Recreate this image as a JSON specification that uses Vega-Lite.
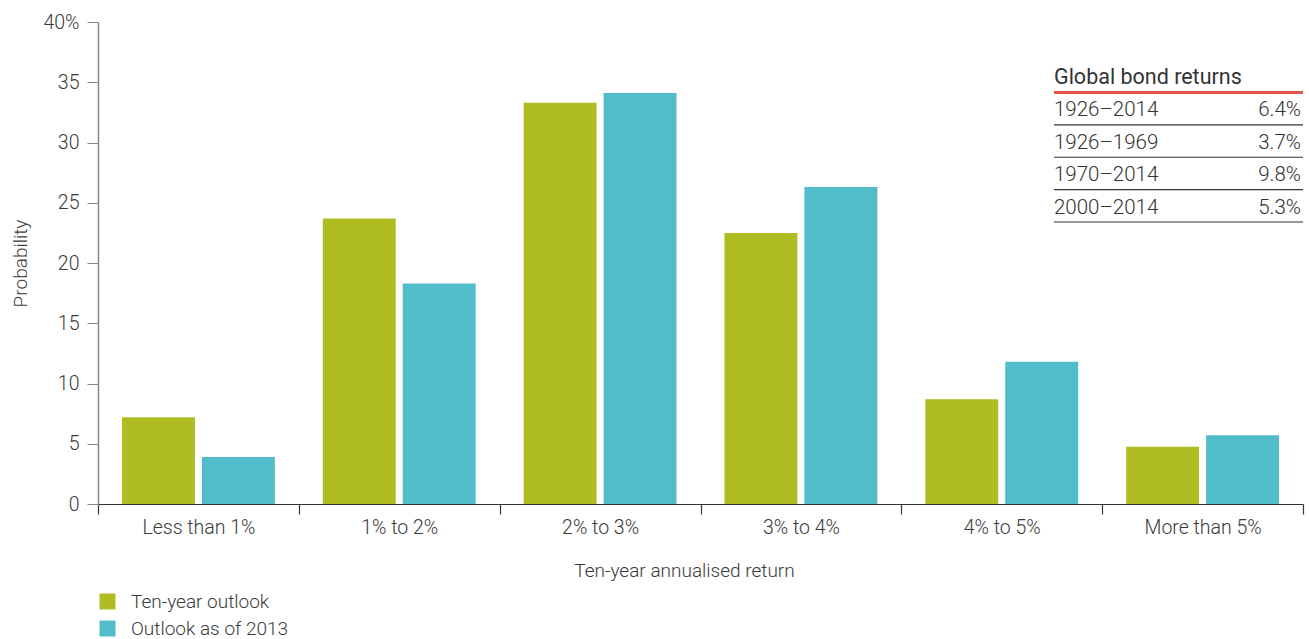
{
  "$schema": "https://vega.github.io/schema/vega-lite/v6.json",
  "width": 1205,
  "height": 482,
  "autosize": {"type": "none"},
  "padding": {"left": 98, "top": 22, "right": 6, "bottom": 135},
  "config": {
    "view": {"stroke": null},
    "font": "Roboto",
    "axis": {"labelFont": "Roboto", "titleFont": "Roboto", "labelFontSize": 19.5, "titleFontSize": 19, "labelFontWeight": 300, "titleFontWeight": 300, "labelColor": "#3a3a3a", "titleColor": "#3a3a3a"},
    "legend": {"labelFont": "Roboto", "labelFontSize": 19, "labelFontWeight": 300, "labelColor": "#3a3a3a", "labelLimit": 400}
  },
  "layer": [
    {
      "data": {
        "values": [
          {"range": "Less than 1%", "series": "Ten-year outlook", "prob": 7.2},
          {"range": "Less than 1%", "series": "Outlook as of 2013", "prob": 3.9},
          {"range": "1% to 2%", "series": "Ten-year outlook", "prob": 23.7},
          {"range": "1% to 2%", "series": "Outlook as of 2013", "prob": 18.3},
          {"range": "2% to 3%", "series": "Ten-year outlook", "prob": 33.3},
          {"range": "2% to 3%", "series": "Outlook as of 2013", "prob": 34.1},
          {"range": "3% to 4%", "series": "Ten-year outlook", "prob": 22.5},
          {"range": "3% to 4%", "series": "Outlook as of 2013", "prob": 26.3},
          {"range": "4% to 5%", "series": "Ten-year outlook", "prob": 8.7},
          {"range": "4% to 5%", "series": "Outlook as of 2013", "prob": 11.8},
          {"range": "More than 5%", "series": "Ten-year outlook", "prob": 4.75},
          {"range": "More than 5%", "series": "Outlook as of 2013", "prob": 5.7}
        ]
      },
      "mark": {"type": "bar"},
      "encoding": {
        "x": {
          "field": "range", "type": "nominal", "sort": null,
          "scale": {"paddingInner": 0, "paddingOuter": 0},
          "axis": {
            "title": "Ten-year annualised return",
            "labelAngle": 0, "tickBand": "extent",
            "domainColor": "#333", "tickColor": "#333", "domainWidth": 1.2, "tickWidth": 1.2,
            "tickSize": 10, "labelPadding": 4, "titlePadding": 25, "titleX": 586
          }
        },
        "xOffset": {
          "field": "series", "type": "nominal",
          "sort": ["Ten-year outlook", "Outlook as of 2013"],
          "scale": {"paddingInner": 0.0875, "paddingOuter": 0.3}
        },
        "y": {
          "field": "prob", "type": "quantitative",
          "scale": {"domain": [0, 40], "nice": false},
          "axis": {
            "title": "Probability",
            "values": [0, 5, 10, 15, 20, 25, 30, 35, 40],
            "labelExpr": "datum.value == 40 ? '40%' : datum.label",
            "grid": false, "domainColor": "#888", "tickColor": "#888", "domainWidth": 1.5,
            "tickSize": 11, "labelPadding": 8, "titlePadding": 12
          }
        },
        "color": {
          "field": "series", "type": "nominal",
          "scale": {"domain": ["Ten-year outlook", "Outlook as of 2013"], "range": ["#AFBC22", "#52BDCA"]},
          "legend": {
            "orient": "none", "legendX": 0, "legendY": 570, "title": null,
            "direction": "vertical", "padding": 0,
            "symbolType": "square", "symbolSize": 256, "symbolStrokeWidth": 0, "symbolOpacity": 1,
            "labelOffset": 14, "rowPadding": 7, "labelLimit": 400
          }
        }
      }
    },
    {
      "data": {
        "values": [
          {"row": "title", "label": "Global bond returns", "value": ""},
          {"row": "r1", "label": "1926–2014", "value": "6.4%"},
          {"row": "r2", "label": "1926–1969", "value": "3.7%"},
          {"row": "r3", "label": "1970–2014", "value": "9.8%"},
          {"row": "r4", "label": "2000–2014", "value": "5.3%"}
        ]
      },
      "encoding": {
        "y": {
          "field": "row", "type": "ordinal",
          "scale": {"type": "point", "padding": 0, "domain": ["title", "r1", "r2", "r3", "r4"], "range": [56, 185.5]},
          "axis": null
        }
      },
      "layer": [
        {
          "mark": {"type": "rule", "yOffset": 14.5},
          "encoding": {
            "x": {"value": 956},
            "x2": {"value": 1205},
            "stroke": {"condition": {"test": "datum.row == 'title'", "value": "#E3574B"}, "value": "#333333"},
            "strokeWidth": {"condition": {"test": "datum.row == 'title'", "value": 3}, "value": 1.2}
          }
        },
        {
          "transform": [{"filter": "datum.row == 'title'"}],
          "mark": {"type": "text", "align": "left", "baseline": "middle", "font": "Roboto", "fontSize": 21.5, "fontWeight": 400, "color": "#333"},
          "encoding": {
            "x": {"value": 956},
            "text": {"field": "label"}
          }
        },
        {
          "transform": [{"filter": "datum.row != 'title'"}],
          "mark": {"type": "text", "align": "left", "baseline": "middle", "font": "Roboto", "fontSize": 20.5, "fontWeight": 300, "color": "#333"},
          "encoding": {
            "x": {"value": 956},
            "text": {"field": "label"}
          }
        },
        {
          "transform": [{"filter": "datum.row != 'title'"}],
          "mark": {"type": "text", "align": "right", "baseline": "middle", "font": "Roboto", "fontSize": 20.5, "fontWeight": 300, "color": "#333"},
          "encoding": {
            "x": {"value": 1203},
            "text": {"field": "value"}
          }
        }
      ]
    }
  ],
  "resolve": {"scale": {"y": "independent"}}
}
